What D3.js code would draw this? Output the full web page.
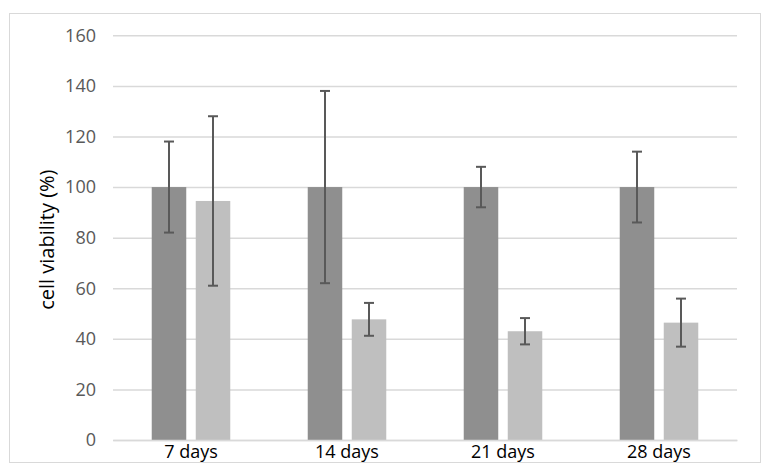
<!DOCTYPE html>
<html><head><meta charset="utf-8">
<script src="https://cdn.jsdelivr.net/npm/d3@7"></script>
<style>body{margin:0;background:#fff}svg{display:block}</style>
</head><body>
<svg id="c" width="771" height="475"></svg>
<script>
const categories = ["7 days", "14 days", "21 days", "28 days"];
const seriesA = [100, 100, 100, 100];
const errorsA = [18, 38, 8, 14];
const seriesB = [94.5, 47.7, 43, 46.4];
const errorsB = [33.5, 6.5, 5.2, 9.5];
const yTicks = [0, 20, 40, 60, 80, 100, 120, 140, 160];

const svg = d3.select("#c");
const m = {left: 113, right: 737, top: 35.3, bottom: 440};
svg.append("rect").attr("x", 9.5).attr("y", 13.5).attr("width", 751).attr("height", 449)
  .attr("fill", "#fff").attr("stroke", "#d9d9d9").attr("stroke-width", 1);

const y = d3.scaleLinear().domain([0, 160]).range([m.bottom, m.top]);
const x0 = d3.scaleBand().domain(categories).range([m.left, m.right]);
const x1 = d3.scaleBand().domain(["A", "B"]).range([0, x0.bandwidth()]).paddingInner(0.216).paddingOuter(0.88);

// grid
const gy = svg.append("g").attr("transform", `translate(${m.left},0)`)
  .call(d3.axisLeft(y).tickValues(yTicks).tickSize(-(m.right - m.left)).tickPadding(17));
gy.select(".domain").remove();
gy.selectAll(".tick line").attr("stroke", "#d9d9d9").attr("stroke-width", 1.5);
gy.selectAll(".tick text").attr("fill", "#595959").style("font-family", "Open Sans, sans-serif").style("font-size", "18px");

const data = categories.map((c, i) => ({c, vals: [
  {k: "A", v: seriesA[i], e: errorsA[i], col: "#8f8f8f"},
  {k: "B", v: seriesB[i], e: errorsB[i], col: "#bfbfbf"}]}));

const g = svg.append("g");
const grp = g.selectAll("g.grp").data(data).join("g").attr("transform", d => `translate(${x0(d.c)},0)`);
grp.selectAll("rect").data(d => d.vals).join("rect")
  .attr("x", d => x1(d.k)).attr("width", x1.bandwidth())
  .attr("y", d => y(d.v)).attr("height", d => y(0) - y(d.v)).attr("fill", d => d.col);

const eb = grp.selectAll("g.eb").data(d => d.vals).join("g").attr("stroke", "#595959").attr("stroke-width", 2);
eb.append("line").attr("x1", d => x1(d.k) + x1.bandwidth() / 2).attr("x2", d => x1(d.k) + x1.bandwidth() / 2)
  .attr("y1", d => y(d.v + d.e)).attr("y2", d => y(d.v - d.e));
eb.append("line").attr("x1", d => x1(d.k) + x1.bandwidth() / 2 - 5).attr("x2", d => x1(d.k) + x1.bandwidth() / 2 + 5)
  .attr("y1", d => y(d.v + d.e)).attr("y2", d => y(d.v + d.e));
eb.append("line").attr("x1", d => x1(d.k) + x1.bandwidth() / 2 - 5).attr("x2", d => x1(d.k) + x1.bandwidth() / 2 + 5)
  .attr("y1", d => y(d.v - d.e)).attr("y2", d => y(d.v - d.e));

// x axis
const gx = svg.append("g").attr("transform", `translate(0,${m.bottom})`)
  .call(d3.axisBottom(x0).tickSize(0).tickPadding(5));
gx.select(".domain").attr("stroke", "#d9d9d9").attr("stroke-width", 1.5);
gx.selectAll(".tick text").attr("fill", "#000").style("font-family", "Open Sans, sans-serif").style("font-size", "18px");

svg.append("text").attr("transform", `translate(47,${(m.top + m.bottom) / 2 + 2}) rotate(-90)`)
  .attr("text-anchor", "middle").attr("dy", "0.35em").style("font-family", "Open Sans, sans-serif").style("font-size", "20px")
  .attr("fill", "#000").text("cell viability (%)");
</script>
</body></html>
